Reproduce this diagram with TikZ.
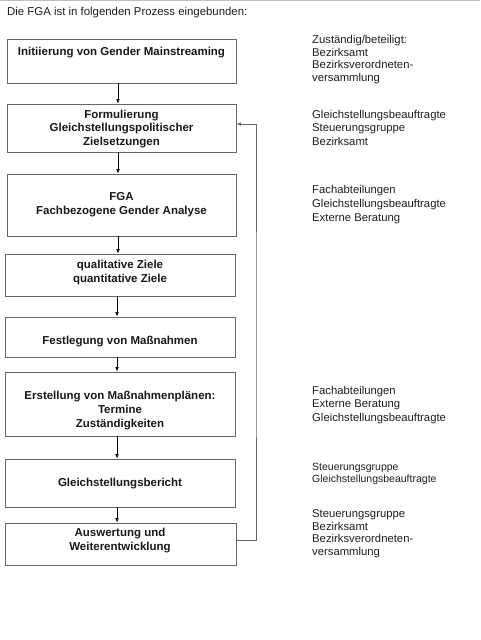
\documentclass[tikz,border=0pt]{standalone}
\usepackage{fontspec}
\setmainfont{Liberation Sans}
\usetikzlibrary{arrows.meta}
\begin{document}
\begin{tikzpicture}[x=1pt,y=-1pt,
  box/.style={draw=black!60, line width=0.9pt, inner sep=0pt, minimum width=229pt},
  boxtext/.style={align=center, inner sep=0pt, font=\fontsize{11.5}{13.8}\selectfont\bfseries, text=black!90},
  side/.style={align=left, anchor=north west, inner sep=0pt, font=\fontsize{11.3}{13.1}\selectfont, text=black!88},
  arr/.style={-{Latex[length=4.5pt,width=3.6pt]}, line width=0.6pt, black}]
\useasboundingbox (0,0) rectangle (480,640);
\fill[white] (0,0) rectangle (480,640);
\draw[black!25, line width=1pt] (0,0.8) -- (480,0.8);
\node[anchor=west, inner sep=0pt, font=\fontsize{11.4}{12}\selectfont, text=black!88] (hdr) at (7,12.5) {Die FGA ist in folgenden Prozess eingebunden:};
% boxes
\node[box, minimum height=44pt] (b1) at (121.5,61) {};
\node[box, minimum height=48pt] (b2) at (121.5,128) {};
\node[box, minimum height=62pt] (b3) at (121.5,205) {};
\node[box, minimum height=42pt, minimum width=230pt] (b4) at (120,275) {};
\node[box, minimum height=40pt, minimum width=230pt] (b5) at (120,337) {};
\node[box, minimum height=64pt, minimum width=230pt] (b6) at (120,404) {};
\node[box, minimum height=48pt, minimum width=230pt] (b7) at (120,483) {};
\node[box, minimum height=42pt, minimum width=231pt] (b8) at (120.5,544) {};
% texts
\node[boxtext] (t1) at (121.5,52.5) {Initiierung von Gender Mainstreaming};
\node[boxtext] (t2) at (121.5,129) {Formulierung\\Gleichstellungspolitischer\\Zielsetzungen};
\node[boxtext] (t3) at (121.5,205) {FGA\\Fachbezogene Gender Analyse};
\node[boxtext] (t4) at (120,272.5) {qualitative Ziele\\quantitative Ziele};
\node[boxtext] (t5) at (120,341.5) {Festlegung von Maßnahmen};
\node[boxtext] (t6) at (120,410.5) {Erstellung von Maßnahmenplänen:\\Termine\\Zuständigkeiten};
\node[boxtext] (t7) at (120,483.5) {Gleichstellungsbericht};
\node[boxtext] (t8) at (120,540.5) {Auswertung und\\Weiterentwicklung};
% arrows
\draw[arr] ([xshift=-3.5pt]b1.south) -- ([xshift=-3.5pt]b2.north);
\draw[arr] ([xshift=-3.5pt]b2.south) -- ([xshift=-3.5pt]b3.north);
\draw[arr] ([xshift=-3.5pt]b3.south) -- ([xshift=-2pt]b4.north);
\draw[arr] ([xshift=-3pt]b4.south) -- ([xshift=-3pt]b5.north);
\draw[arr] ([xshift=-3pt]b5.south) -- ([xshift=-3pt]b6.north);
\draw[arr] ([xshift=-3pt]b6.south) -- ([xshift=-3pt]b7.north);
\draw[arr] ([xshift=-3pt]b7.south) -- ([xshift=-3.5pt]b8.north);
\coordinate (fb) at (256,0);
\draw[arr, draw=black!60, line width=0.8pt] ([yshift=4pt]b8.east) -| (fb |- b5.center) |- ([yshift=4pt]b2.east);
% side texts
\node[side, font=\fontsize{11.3}{12.7}\selectfont] (s1) at (312,35) {Zuständig/beteiligt:\\Bezirksamt\\Bezirksverordneten-\\versammlung};
\node[side] (s2) at (312,110.5) {Gleichstellungsbeauftragte\\Steuerungsgruppe\\Bezirksamt};
\node[side, font=\fontsize{11.3}{13.7}\selectfont] (s3) at (312,185.5) {Fachabteilungen\\Gleichstellungsbeauftragte\\Externe Beratung};
\node[side] (s4) at (312,386.5) {Fachabteilungen\\Externe Beratung\\Gleichstellungsbeauftragte};
\node[side, font=\fontsize{10.5}{12.3}\selectfont] (s5) at (312,463) {Steuerungsgruppe\\Gleichstellungsbeauftragte};
\node[side, font=\fontsize{11.3}{12.7}\selectfont] (s6) at (312,509.5) {Steuerungsgruppe\\Bezirksamt\\Bezirksverordneten-\\versammlung};
\end{tikzpicture}
\end{document}
